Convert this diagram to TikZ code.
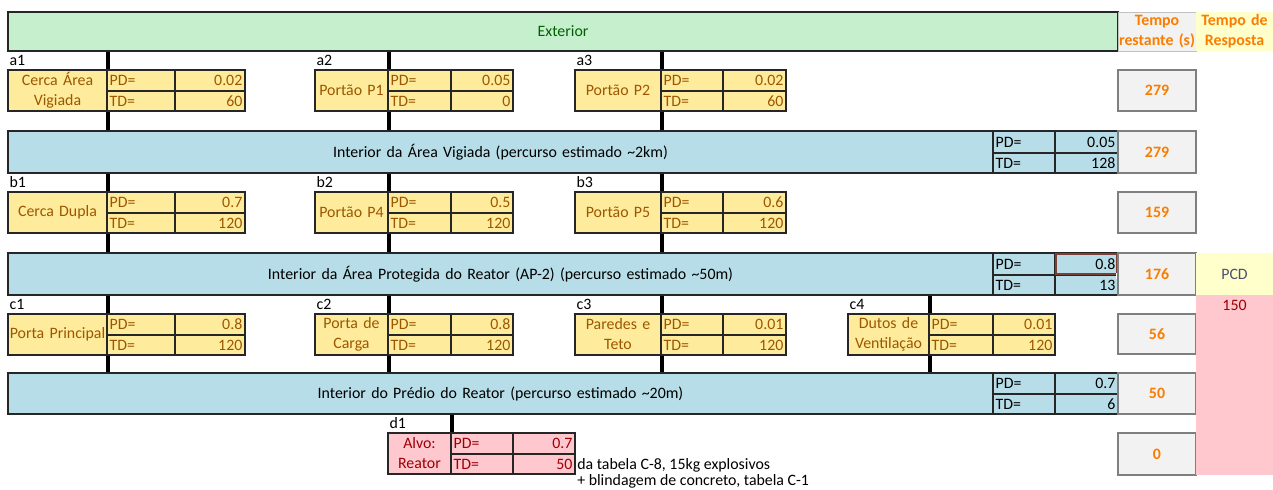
\documentclass[tikz,border=0pt]{standalone}
\usepackage{fontspec}
\setmainfont{Carlito}
\usetikzlibrary{calc}

\definecolor{goodfill}{HTML}{C6EFCE}
\definecolor{goodtext}{HTML}{006100}
\definecolor{bandfill}{HTML}{B7DEE8}
\definecolor{neutfill}{HTML}{FFEB9C}
\definecolor{neuttext}{HTML}{9C5700}
\definecolor{badfill}{HTML}{FFC7CE}
\definecolor{badtext}{HTML}{9C0006}
\definecolor{calcfill}{HTML}{F2F2F2}
\definecolor{calctext}{HTML}{FA7D00}
\definecolor{calcline}{HTML}{7F7F7F}
\definecolor{notefill}{HTML}{FFFFCC}
\definecolor{inputtext}{HTML}{4F4F6F}
\definecolor{edge}{HTML}{262626}
\definecolor{activecell}{HTML}{7B3F33}
\colorlet{boxfill}{neutfill}
\colorlet{boxtext}{neuttext}

\newcommand\cellfont{\fontsize{11.9}{15}\selectfont}
% centred line that may run past its cell
\newcommand\wideline[1]{\hbox to\linewidth{\hss #1\hss}}

% one spreadsheet cell: name, x1, y1, x2, y2, style, text (pixel grid)
\newcommand\xcell[7]{%
  \pgfmathsetmacro\cellw{((#4)-(#2))*0.75}%
  \pgfmathsetmacro\cellh{((#5)-(#3))*0.75}%
  \pgfmathsetmacro\celltw{((#4)-(#2))*0.75-4}%
  \node[#6, minimum width=\cellw pt, minimum height=\cellh pt, text width=\celltw pt]
    (#1) at ({((#2)+(#4))/2},{((#3)+(#5))/2}) {#7};}

% a barrier: id, x of name / PD / value / end, top y, name, PD, TD
\newcommand\barrier[9]{%
  \node[lbl] (#1lab) at (#2,#6-10) {#1};
  \xcell{#1n}{#2}{#6}{#3}{#6+41}{bxname}{#7}
  \xcell{#1p}{#3}{#6}{#4}{#6+21}{bxpd}{PD=}
  \xcell{#1pv}{#4}{#6}{#5}{#6+21}{bxval}{#8}
  \xcell{#1t}{#3}{#6+21}{#4}{#6+41}{bxpd}{TD=}
  \xcell{#1tv}{#4}{#6+21}{#5}{#6+41}{bxval}{#9}}

\begin{document}
\begin{tikzpicture}[x=0.75pt,y=-0.75pt,
  every node/.style={font=\cellfont, inner xsep=2pt, inner ysep=0pt},
  lbl/.style={anchor=west, inner xsep=1pt, text=black},
  bxname/.style={fill=boxfill, draw=edge, line width=0.8pt, text=boxtext, align=center},
  bxpd/.style={fill=boxfill, draw=edge, line width=0.8pt, text=boxtext, align=left},
  bxval/.style={fill=boxfill, draw=edge, line width=0.8pt, text=boxtext, align=right},
  bandbox/.style={fill=bandfill, draw=edge, line width=1pt, text=black},
  calcbox/.style={fill=calcfill, draw=calcline, line width=1.2pt, text=calctext,
    align=center, font=\cellfont\bfseries},
  conn/.style={line width=3pt, black}]
\useasboundingbox (0,0) rectangle (1273,489);

% header row
\xcell{ext}{8}{12}{1118}{51}{fill=goodfill, draw=edge, line width=1pt, text=goodtext, align=center}{Exterior}
\xcell{hq}{1118}{12}{1196}{51}{fill=calcfill, draw=calcfill!80!black, line width=0.4pt, text=calctext,
  align=center, font=\cellfont\bfseries}{Tempo\\\wideline{restante (s)}}
\xcell{hr}{1196}{12}{1273}{51}{fill=notefill, text=calctext, align=center,
  font=\cellfont\bfseries}{Tempo de\\Resposta}

% area bands
\xcell{band1}{8}{131}{993}{173}{bandbox, align=center}{Interior da Área Vigiada (percurso estimado \textasciitilde2km)}
\xcell{band1p}{993}{131}{1055}{153}{bandbox, align=left}{PD=}
\xcell{band1pv}{1055}{131}{1118}{153}{bandbox, align=right}{0.05}
\xcell{band1t}{993}{153}{1055}{173}{bandbox, align=left}{TD=}
\xcell{band1tv}{1055}{153}{1118}{173}{bandbox, align=right}{128}

\xcell{band2}{8}{253}{993}{295}{bandbox, align=center}{Interior da Área Protegida do Reator (AP-2) (percurso estimado \textasciitilde50m)}
\xcell{band2p}{993}{253}{1055}{275}{bandbox, align=left}{PD=}
\xcell{band2pv}{1055}{253}{1118}{275}{bandbox, align=right}{0.8}
\xcell{band2t}{993}{275}{1055}{295}{bandbox, align=left}{TD=}
\xcell{band2tv}{1055}{275}{1118}{295}{bandbox, align=right}{13}

\xcell{band3}{8}{373}{993}{414}{bandbox, align=center}{Interior do Prédio do Reator (percurso estimado \textasciitilde20m)}
\xcell{band3p}{993}{373}{1055}{394}{bandbox, align=left}{PD=}
\xcell{band3pv}{1055}{373}{1118}{394}{bandbox, align=right}{0.7}
\xcell{band3t}{993}{394}{1055}{414}{bandbox, align=left}{TD=}
\xcell{band3tv}{1055}{394}{1118}{414}{bandbox, align=right}{6}

% active cell frame
\draw[activecell, line width=1.1pt] ($(band2pv.north west)+(1.5,1.5)$) rectangle ($(band2pv.south east)+(-1.5,-1.5)$);
\draw[white, line width=0.6pt, fill=black] ($(band2pv.south east)+(-2.5,-2.5)$) rectangle ($(band2pv.south east)+(2.5,2.5)$);

% barriers
\barrier{a1}{8}{107}{175}{245}{70}{Cerca Área\\Vigiada}{0.02}{60}
\barrier{a2}{315}{388}{451}{513}{70}{Portão P1}{0.05}{0}
\barrier{a3}{575}{661}{723}{786}{70}{Portão P2}{0.02}{60}

\barrier{b1}{8}{107}{175}{245}{192}{Cerca Dupla}{0.7}{120}
\barrier{b2}{315}{388}{451}{513}{192}{Portão P4}{0.5}{120}
\barrier{b3}{575}{661}{723}{786}{192}{Portão P5}{0.6}{120}

\barrier{c1}{8}{107}{175}{245}{314}{\wideline{Porta Principal}}{0.8}{120}
\barrier{c2}{315}{388}{451}{513}{314}{Porta de\\Carga}{0.8}{120}
\barrier{c3}{575}{661}{723}{786}{314}{Paredes e\\Teto}{0.01}{120}
\barrier{c4}{848}{929}{993}{1055}{314}{Dutos de\\\wideline{Ventilação}}{0.01}{120}

\colorlet{boxfill}{badfill}
\colorlet{boxtext}{badtext}
\barrier{d1}{388}{451}{513}{575}{433}{Alvo:\\Reator}{0.7}{50}

\node[anchor=west, inner xsep=0pt] (note1) at (577,465) {da tabela C-8, 15kg explosivos};
\node[anchor=west, inner xsep=0pt] (note2) at (577,481) {+ blindagem de concreto, tabela C-1};

% paths between areas
\foreach \b in {a1,a2,a3}{
  \draw[conn] (ext.south -| \b n.north east) -- (\b n.north east);
  \draw[conn] (\b n.south east) -- (band1.north -| \b n.south east);}
\foreach \b in {b1,b2,b3}{
  \draw[conn] (band1.south -| \b n.north east) -- (\b n.north east);
  \draw[conn] (\b n.south east) -- (band2.north -| \b n.south east);}
\foreach \b in {c1,c2,c3,c4}{
  \draw[conn] (band2.south -| \b n.north east) -- (\b n.north east);
  \draw[conn] (\b n.south east) -- (band3.north -| \b n.south east);}
\draw[conn] (band3.south -| d1n.north east) -- (d1n.north east);

% remaining time column
\xcell{q1}{1118}{70}{1196}{111}{calcbox}{279}
\xcell{q2}{1118}{131}{1196}{173}{calcbox}{279}
\xcell{q3}{1118}{192}{1196}{233}{calcbox}{159}
\xcell{q4}{1118}{253}{1196}{295}{calcbox}{176}
\xcell{q5}{1118}{314}{1196}{354}{calcbox}{56}
\xcell{q6}{1118}{373}{1196}{414}{calcbox}{50}
\xcell{q7}{1118}{433}{1196}{475}{calcbox}{0}

% response time column
\xcell{pcd}{1196}{253}{1273}{295}{fill=notefill, text=inputtext, align=center}{PCD}
\xcell{resp}{1196}{295}{1273}{475}{fill=badfill}{}
\node[text=badtext] (resp150) at (1234.5,305) {150};
\end{tikzpicture}
\end{document}
